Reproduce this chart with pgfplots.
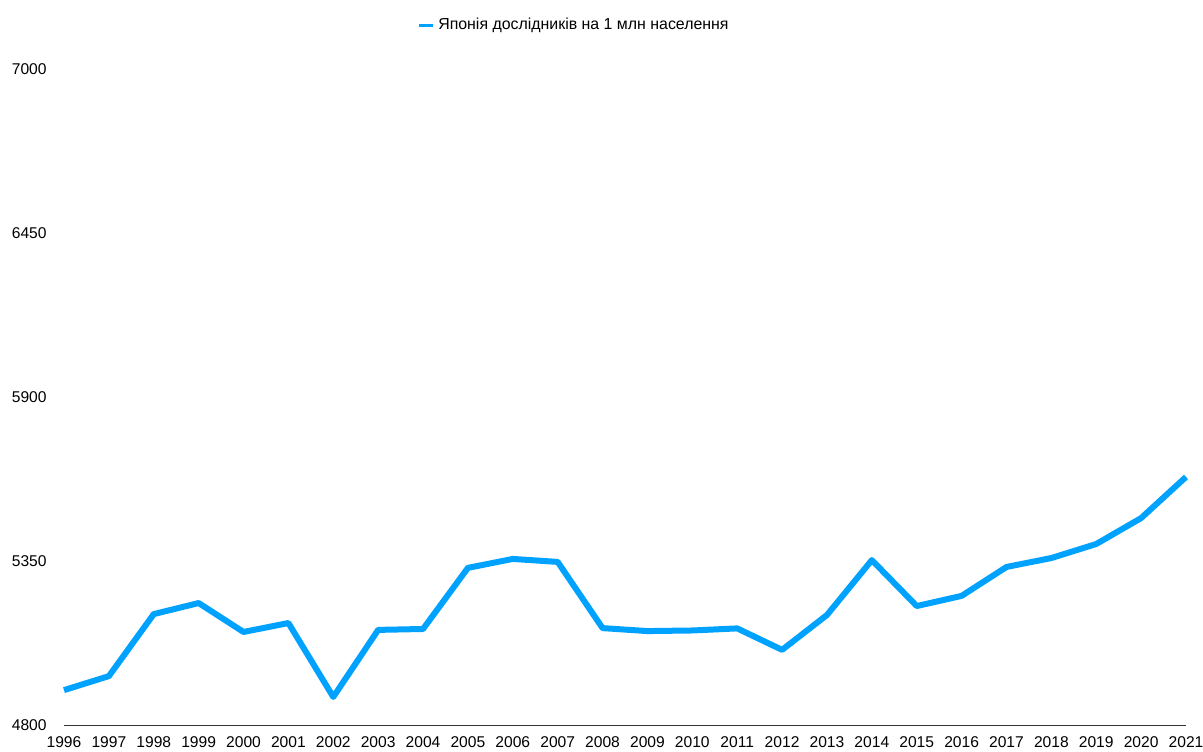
\documentclass[border=0pt]{standalone}
\usepackage{pgfplots}
\pgfplotsset{compat=1.18}
\usepackage{fontspec}
\setmainfont{Liberation Sans}
\usetikzlibrary{calc}
\definecolor{lineblue}{HTML}{00A2FF}
\definecolor{axgray}{HTML}{333333}
\begin{document}
\begin{tikzpicture}
\begin{axis}[
  name=ax,
  scale only axis,
  width=561pt, height=328pt,
  xmin=1996, xmax=2021,
  ymin=4800, ymax=7000,
  xtick=data,
  ytick={4800,5350,5900,6450,7000},
  /pgf/number format/1000 sep={},
  /pgf/number format/assume math mode=true,
  axis x line*=bottom,
  axis y line*=left,
  y axis line style={draw=none},
  x axis line style={draw=axgray, line width=0.5pt},
  major tick length=0pt,
  tick label style={font=\fontsize{7.8}{9}\selectfont, text=black},
  xticklabel style={anchor=north, inner sep=0pt, yshift=-5.5pt},
  yticklabel style={anchor=east, inner sep=0pt, xshift=-8.5pt},
  clip=false,
  legend style={at={(0.3145,1.067)}, anchor=west, draw=none, fill=none,
    font=\fontsize{7.95}{9}\selectfont, inner sep=0pt,
    /tikz/every even column/.append style={column sep=0pt}},
  legend cell align=left,
  legend image code/.code={\draw[line width=1.5pt, lineblue] (0pt,0pt) -- (7pt,0pt);},
]
\addplot[lineblue, line width=3pt, line join=round] coordinates {
(1996,4917) (1997,4964) (1998,5172) (1999,5209) (2000,5112) (2001,5142)
(2002,4894) (2003,5119) (2004,5122) (2005,5327) (2006,5357) (2007,5347)
(2008,5125) (2009,5115) (2010,5117) (2011,5124) (2012,5052) (2013,5169)
(2014,5353) (2015,5199) (2016,5233) (2017,5330) (2018,5360) (2019,5407)
(2020,5494) (2021,5632)
};
\addlegendentry{Японія дослідників на 1 млн населення}
\end{axis}
\pgfresetboundingbox
\path[use as bounding box] ($(ax.south west)+(-32pt,-13pt)$) rectangle ($(ax.north east)+(8.5pt,34.5pt)$);
\end{tikzpicture}
\end{document}
